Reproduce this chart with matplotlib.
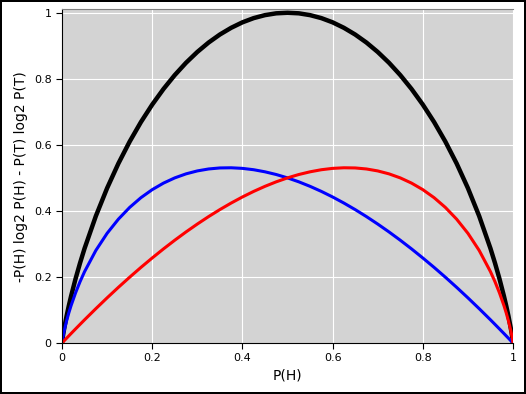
import matplotlib
matplotlib.use('Agg')
import matplotlib.pyplot as plt

# P(H) sample points
p_heads = [0, .0025, .005, .01, .015, .02, .03, .04,
           .05, .075, .1, .125, .15, .175, .2, .225, .25, .275, .3, .325, .35, .375,
           .4, .425, .45, .475, .5, .525, .55, .575, .6, .625, .65, .675, .7, .725,
           .75, .775, .8, .825, .85, .875, .9, .925, .95,
           .96, .97, .98, .985, .99, .995, .9975, 1]
# -P(H) log2 P(H)  (blue)
h_term = [0, .0216, .0382, .0664, .0909, .1129, .1518, .1858,
          .2161, .2803, .3322, .375, .4106, .4401, .4644, .4842, .5, .5122, .5211,
          .5270, .5301, .5306, .5288, .5247, .5184, .5102, .5, .4881, .4744, .4591,
          .4422, .4238, .4040, .3828, .3602, .3364, .3113, .2850, .2575, .2290,
          .1993, .1686, .1368, .1040, .0703,
          .0565, .0426, .0286, .0215, .0144, .0072, .0036, 0]
# -P(T) log2 P(T)  (red)
t_term = [0, .0036, .0072, .0144, .0215, .0286, .0426, .0565,
          .0703, .1040, .1368, .1686, .1993, .2290, .2575, .2850, .3113, .3364,
          .3602, .3828, .4040, .4238, .4422, .4591, .4744, .4881, .5, .5102, .5184,
          .5247, .5288, .5306, .5301, .5270, .5211, .5122, .5, .4842, .4644, .4401,
          .4106, .375, .3322, .2803, .2161,
          .1858, .1518, .1129, .0909, .0664, .0382, .0216, 0]
# total entropy (black)
entropy = [0, .0252, .0454, .0808, .1124, .1415, .1944, .2423,
           .2864, .3843, .4690, .5436, .6099, .6691, .7219, .7692, .8113, .8486,
           .8813, .9098, .9341, .9544, .9710, .9838, .9928, .9983, 1.0, .9983, .9928,
           .9838, .9710, .9544, .9341, .9098, .8813, .8486, .8113, .7692, .7219,
           .6691, .6099, .5436, .4690, .3843, .2864,
           .2423, .1944, .1415, .1124, .0808, .0454, .0252, 0]

ticks = [0, 0.2, 0.4, 0.6, 0.8, 1]
tick_labels = ['0', '0.2', '0.4', '0.6', '0.8', '1']

fig = plt.figure(figsize=(5.26, 3.94), dpi=100)
fig.patch.set_edgecolor('black')
fig.patch.set_linewidth(1.5)
ax = fig.add_axes([0.1179, 0.1294, 0.8574, 0.8466])
ax.set_facecolor('#d3d3d3')
ax.grid(True, color='white', linewidth=0.8)
ax.set_axisbelow(True)

ax.plot(p_heads, entropy, color='black', lw=3.2)
ax.plot(p_heads, h_term, color='blue', lw=2.2)
ax.plot(p_heads, t_term, color='red', lw=2.2)

ax.set_xlim(0, 1)
ax.set_ylim(0, 1.01)
ax.set_xticks(ticks)
ax.set_xticklabels(tick_labels)
ax.set_yticks(ticks)
ax.set_yticklabels(tick_labels)
ax.tick_params(labelsize=8, direction='out', length=4, top=False, right=False)

ax.spines['right'].set_visible(False)
ax.spines['top'].set_color('#808080')
ax.spines['left'].set_color('black')
ax.spines['bottom'].set_color('black')

ax.set_xlabel('P(H)', fontsize=10)
ax.set_ylabel('-P(H) log2 P(H) - P(T) log2 P(T)', fontsize=10)

plt.savefig('out.png', dpi=100, edgecolor=fig.get_edgecolor())
plt.close()
